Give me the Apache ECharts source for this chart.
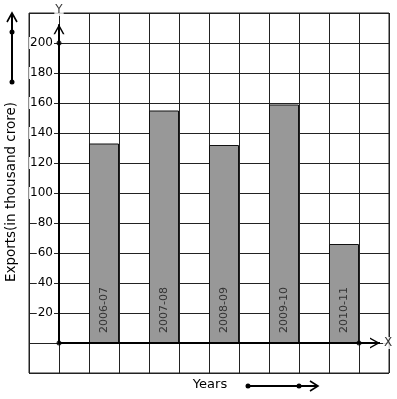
<!DOCTYPE html>
<html>
<head>
<meta charset="utf-8">
<script src="https://cdn.jsdelivr.net/npm/echarts@6/dist/echarts.min.js"></script>
<style>
  html, body { margin: 0; padding: 0; background: #fff; }
  #chart { width: 397px; height: 399px; }
</style>
</head>
<body>
<div id="chart"></div>
<script>
// data
var years = ['2006-07', '2007-08', '2008-09', '2009-10', '2010-11'];
var exports = [133, 155, 132, 159, 66];
var yTickLabels = [20, 40, 60, 80, 100, 120, 140, 160, 180, 200];
var axisDots = [[0, 0], [0, 200], [10, 0]];
var axisNames = [[0, 222, 'Y'], [10.97, 0, 'X']];

// each bar sits in its own grid cell, one empty cell between bars
var barData = years.map(function (y, i) { return [2 * i + 1.5, exports[i]]; });

var font = 'DejaVu Sans';
// chevron pointing up; invisible corner points make the tip the box centre
var chevron = 'path://M-4.5,-10 L-4.5,-10 M15.5,10 L15.5,10 M0,10 L5.5,0 L11,10 L9.4,10 L5.5,2.9 L1.6,10 Z';

var chart = echarts.init(document.getElementById('chart'));
var option = {
  animation: false,
  backgroundColor: '#fff',
  grid: {
    left: 29, top: 13, right: 8, bottom: 26,
    show: true, borderColor: '#222', borderWidth: 1,
    outerBoundsMode: 'none'
  },
  xAxis: {
    type: 'value', min: -1, max: 11, interval: 1,
    axisLine: { show: false, onZero: false },
    axisTick: { show: false },
    axisLabel: { show: false },
    splitLine: { show: true, lineStyle: { color: '#222', width: 1 } }
  },
  yAxis: {
    type: 'value', min: -20, max: 220, interval: 20,
    axisLine: { show: false, onZero: false },
    axisTick: { show: false },
    axisLabel: {
      inside: true,
      margin: 25,
      align: 'right',
      fontFamily: font, fontSize: 12, color: '#000',
      formatter: function (v) {
        return yTickLabels.indexOf(v) >= 0 ? '{w|' + v + '}' : '';
      },
      rich: { w: { fontFamily: font, fontSize: 12, color: '#000', backgroundColor: '#fff', padding: [0, 1] } }
    },
    splitLine: { show: true, lineStyle: { color: '#222', width: 1 } }
  },
  series: [
    {
      type: 'bar',
      data: barData,
      barWidth: 30,
      itemStyle: { color: '#989898', borderColor: '#111', borderWidth: 1 },
      label: {
        show: true,
        position: 'insideBottom',
        rotate: 90,
        align: 'left',
        verticalAlign: 'middle',
        distance: 10,
        fontFamily: font, fontSize: 11, color: '#333',
        formatter: function (p) { return years[p.dataIndex]; }
      },
      z: 2
    },
    {
      // y axis arrow
      type: 'line', silent: true, z: 4,
      showAllSymbol: true,
      data: [{ value: [0, 0], symbol: 'none' }, { value: [0, 212.5], symbol: chevron, symbolSize: 20, symbolRotate: 0 }],
      lineStyle: { color: '#000', width: 2 },
      itemStyle: { color: '#000', borderWidth: 0 }
    },
    {
      // x axis arrow
      type: 'line', silent: true, z: 4,
      showAllSymbol: true,
      data: [{ value: [0, 0], symbol: 'none' }, { value: [10.7, 0], symbol: chevron, symbolSize: 20, symbolRotate: -90 }],
      lineStyle: { color: '#000', width: 2 },
      itemStyle: { color: '#000', borderWidth: 0 }
    },
    {
      type: 'scatter', silent: true, z: 5,
      data: axisDots,
      symbolSize: 5,
      itemStyle: { color: '#000' }
    },
    {
      type: 'scatter', silent: true, z: 6, clip: false,
      data: axisNames,
      symbolSize: 1,
      itemStyle: { color: 'rgba(0,0,0,0)' },
      label: {
        show: true, position: 'inside',
        fontFamily: font, fontSize: 12, color: '#000',
        backgroundColor: '#fff', padding: [0, 1],
        formatter: function (p) { return p.value[2]; }
      }
    }
  ],
  graphic: [
    {
      type: 'text', x: 11, y: 192, rotation: Math.PI / 2,
      style: {
        text: 'Exports(in thousand crore)', fontFamily: font, fontSize: 13.5, fill: '#000',
        align: 'center', verticalAlign: 'middle', textAlign: 'center', textVerticalAlign: 'middle'
      }
    },
    {
      type: 'text', x: 210, y: 385,
      style: {
        text: 'Years', fontFamily: font, fontSize: 13, fill: '#000',
        align: 'center', verticalAlign: 'middle', textAlign: 'center', textVerticalAlign: 'middle'
      }
    },
    // decorative arrow beside the y title
    { type: 'line', shape: { x1: 12, y1: 82, x2: 12, y2: 14 }, style: { stroke: '#000', lineWidth: 2 } },
    { type: 'polyline', shape: { points: [[7, 22], [12, 13], [17, 22]] }, style: { stroke: '#000', lineWidth: 1.6, fill: null } },
    { type: 'circle', shape: { cx: 12, cy: 32, r: 2.5 }, style: { fill: '#000' } },
    { type: 'circle', shape: { cx: 12, cy: 82, r: 2.5 }, style: { fill: '#000' } },
    // decorative arrow beside "Years"
    { type: 'line', shape: { x1: 248, y1: 386, x2: 317, y2: 386 }, style: { stroke: '#000', lineWidth: 2 } },
    { type: 'polyline', shape: { points: [[310, 381], [318, 386], [310, 391]] }, style: { stroke: '#000', lineWidth: 1.6, fill: null } },
    { type: 'circle', shape: { cx: 248, cy: 386, r: 2.5 }, style: { fill: '#000' } },
    { type: 'circle', shape: { cx: 299, cy: 386, r: 2.5 }, style: { fill: '#000' } }
  ]
};
chart.setOption(option);
</script>
</body>
</html>
